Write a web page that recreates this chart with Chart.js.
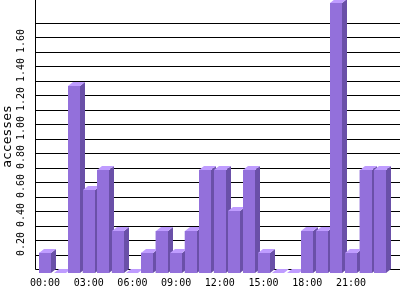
<!DOCTYPE html>
<html>
<head>
<meta charset="utf-8">
<script src="https://cdn.jsdelivr.net/npm/chart.js@4"></script>
<style>
  body { margin: 0; background: #fff; }
  canvas { display: block; }
</style>
</head>
<body>
<canvas id="chart" width="400" height="300"></canvas>
<script>
// hourly accesses
const hours = ['00:00', '01:00', '02:00', '03:00', '04:00', '05:00', '06:00', '07:00',
               '08:00', '09:00', '10:00', '11:00', '12:00', '13:00', '14:00', '15:00',
               '16:00', '17:00', '18:00', '19:00', '20:00', '21:00', '22:00', '23:00'];
const accesses = [0.14, 0, 1.29, 0.57, 0.71, 0.29, 0, 0.14, 0.29, 0.14, 0.29, 0.71,
                  0.71, 0.43, 0.71, 0.14, 0, 0, 0.29, 0.29, 1.86, 0.14, 0.71, 0.71];
const xTickLabels = ['00:00', '03:00', '06:00', '09:00', '12:00', '15:00', '18:00', '21:00'];
const yTickLabels = ['0.20', '0.40', '0.60', '0.80', '1.00', '1.20', '1.40', '1.60'];
const yMax = 1.883;

const DX = 5, DY = 4;  // depth of the 3d effect
const FRONT = '#9370db', SIDE = '#6a50a8', TOP = '#bf9cff';

const threeD = {
  id: 'threeD',
  beforeDatasetsDraw(chart) {
    const ctx = chart.ctx, y = chart.scales.y, area = chart.chartArea;
    const axisX = Math.round(area.left) - 3 + 0.5;
    ctx.save();
    ctx.strokeStyle = '#000';
    ctx.lineWidth = 1;
    ctx.beginPath();
    y.ticks.forEach(t => {
      // only the 0.1 steps, not the max
      if (Math.abs(t.value * 10 - Math.round(t.value * 10)) > 0.01) return;
      const py = Math.round(y.getPixelForValue(t.value)) - DY + 0.5;
      ctx.moveTo(axisX, py);
      ctx.lineTo(chart.width, py);
    });
    const base = Math.round(y.getPixelForValue(0)) - DY + 0.5;
    ctx.moveTo(axisX, 0);
    ctx.lineTo(axisX, base);
    ctx.stroke();
    ctx.restore();
  },
  afterDatasetsDraw(chart) {
    const ctx = chart.ctx;
    const meta = chart.getDatasetMeta(0);
    ctx.save();
    meta.data.forEach(bar => {
      const p = bar.getProps(['x', 'y', 'base', 'width'], true);
      const x0 = Math.round(p.x - p.width / 2), x1 = Math.round(p.x + p.width / 2);
      const top = Math.round(p.y), base = Math.round(p.base);
      // side
      ctx.fillStyle = SIDE;
      ctx.beginPath();
      ctx.moveTo(x1, top);
      ctx.lineTo(x1 + DX, top - DY);
      ctx.lineTo(x1 + DX, base - DY);
      ctx.lineTo(x1, base);
      ctx.closePath();
      ctx.fill();
      // top
      ctx.fillStyle = TOP;
      ctx.beginPath();
      ctx.moveTo(x0, top);
      ctx.lineTo(x1, top);
      ctx.lineTo(x1 + DX, top - DY);
      ctx.lineTo(x0 + DX, top - DY);
      ctx.closePath();
      ctx.fill();
      // front
      ctx.fillStyle = FRONT;
      ctx.fillRect(x0, top, x1 - x0, base - top);
    });
    ctx.restore();
  }
};

new Chart(document.getElementById('chart'), {
  type: 'bar',
  data: {
    labels: hours,
    datasets: [{
      data: accesses,
      backgroundColor: FRONT,
      borderWidth: 0,
      barPercentage: 0.82,
      categoryPercentage: 1
    }]
  },
  options: {
    responsive: false,
    animation: false,
    events: [],
    layout: { padding: { left: 0, right: 12.6, top: 0, bottom: 0 } },
    plugins: {
      legend: { display: false },
      tooltip: { enabled: false }
    },
    scales: {
      x: {
        grid: { display: false, drawTicks: false },
        border: { display: false },
        ticks: {
          autoSkip: false,
          maxRotation: 0,
          padding: 4,
          color: '#000',
          font: { family: 'DejaVu Sans Mono', size: 10 },
          callback: (v, i) => xTickLabels.includes(hours[i]) ? hours[i] : ''
        },
        afterFit: s => { s.height = 27; s.paddingLeft = 0; s.paddingRight = 0; }
      },
      y: {
        min: 0,
        max: yMax,
        grid: { display: false, drawTicks: false },
        border: { display: false },
        ticks: {
          stepSize: 0.1,
          autoSkip: false,
          minRotation: 90,
          maxRotation: 90,
          crossAlign: 'center',
          padding: 4,
          color: '#000',
          font: { family: 'DejaVu Sans Mono', size: 10 },
          callback: v => {
            const s = (Math.round(v * 10) / 10).toFixed(2);
            return yTickLabels.includes(s) ? s : '';
          }
        },
        title: {
          display: true,
          text: 'accesses',
          color: '#000',
          font: { family: 'DejaVu Sans Mono', size: 13 },
          padding: 0
        },
        afterFit: s => { s.width = 37.7; s.paddingTop = 0; s.paddingBottom = 0; }
      }
    }
  },
  plugins: [threeD]
});
</script>
</body>
</html>
